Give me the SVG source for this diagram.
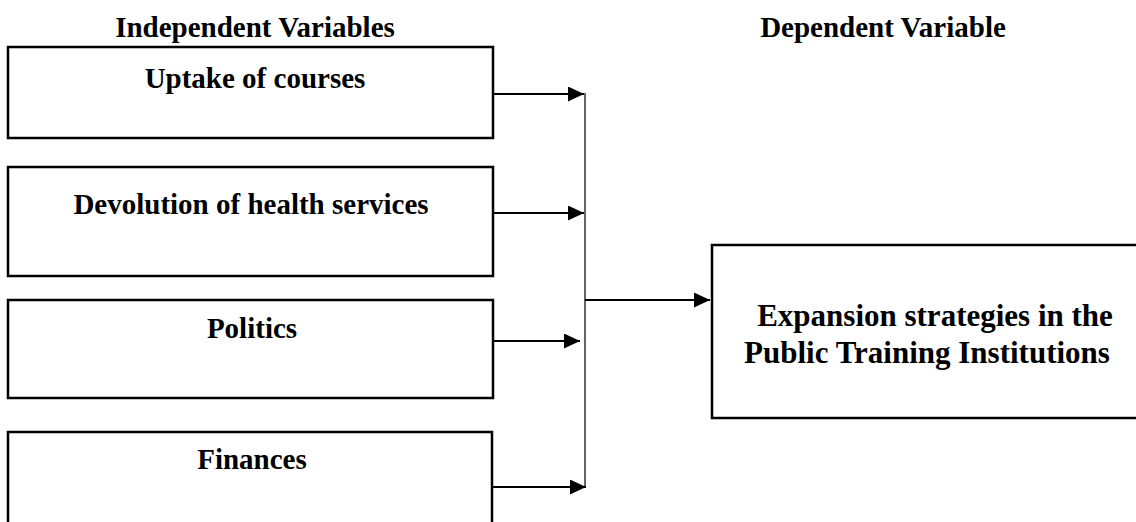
<svg xmlns="http://www.w3.org/2000/svg" width="1136" height="522" viewBox="0 0 1136 522">
<style>
.box{fill:#fff;stroke:#000;stroke-width:2.5}
.t{font-family:"Liberation Serif","Times New Roman",serif;font-weight:bold;fill:#000;text-anchor:middle}
.h{font-size:29px}
.r{font-size:31px}
.c{stroke:#000;stroke-width:2;fill:none}
.v{stroke:#333;stroke-width:1.5;fill:none}
</style>
<defs>
<marker id="ah" markerUnits="userSpaceOnUse" markerWidth="17" markerHeight="15" refX="16" refY="7.5" orient="auto">
<path d="M0,0 L16,7.5 L0,15 z" fill="#000"/>
</marker>
</defs>
<g id="headings">
<text class="t h" x="255" y="37">Independent Variables</text>
<text class="t h" x="883" y="37">Dependent Variable</text>
</g>
<g id="n1"><rect class="box" x="8" y="47" width="485" height="91"/><text class="t h" x="255" y="88">Uptake of courses</text></g>
<g id="n2"><rect class="box" x="8" y="167" width="485" height="109"/><text class="t h" x="251" y="214">Devolution of health services</text></g>
<g id="n3"><rect class="box" x="8" y="300" width="485" height="98"/><text class="t h" x="252" y="338">Politics</text></g>
<g id="n4"><rect class="box" x="8" y="432" width="484" height="100"/><text class="t h" x="252" y="469">Finances</text></g>
<g id="n5"><rect class="box" x="712" y="245" width="440" height="173"/><text class="t r" x="935" y="326">Expansion strategies in the</text><text class="t r" x="927" y="363">Public Training Institutions</text></g>
<g id="connectors">
<line class="v" x1="585" y1="93" x2="585" y2="487"/>
<line class="c" x1="493" y1="94" x2="584" y2="94" marker-end="url(#ah)"/>
<line class="c" x1="493" y1="213" x2="584" y2="213" marker-end="url(#ah)"/>
<line class="c" x1="493" y1="341" x2="580" y2="341" marker-end="url(#ah)"/>
<line class="c" x1="492" y1="487" x2="586" y2="487" marker-end="url(#ah)"/>
<line class="c" x1="585" y1="300" x2="710" y2="300" marker-end="url(#ah)"/>
</g>
</svg>
